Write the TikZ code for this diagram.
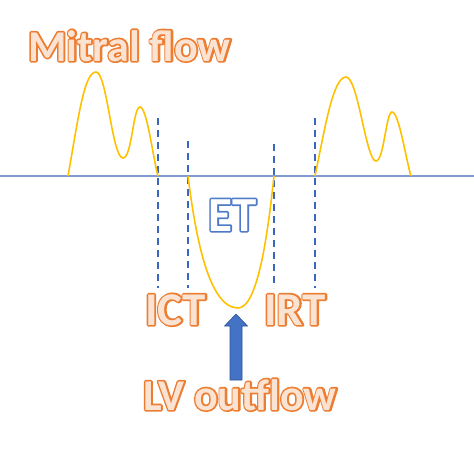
\documentclass[tikz,border=0pt]{standalone}
\usepackage{fontspec}
\setmainfont{Carlito}
\definecolor{orn}{HTML}{ED7D31}
\definecolor{peach}{HTML}{FBE3D3}
\definecolor{gold}{HTML}{FFC000}
\definecolor{axisblue}{HTML}{7E9CCF}
\definecolor{dashblue}{HTML}{3A66C0}
\definecolor{arrblue}{HTML}{4472C4}
\definecolor{arredge}{HTML}{2F5597}
\definecolor{etblue}{HTML}{4F7AC8}
% outlined text: #1 stroke colour, #2 fill colour, #3 text
% a stroked copy underneath, the filled text on top: outline lies outside the glyphs
\newcommand\outltext[3]{\rlap{\color{#1}\special{pdf:literal direct 1 Tr 3.4 w 1 j}#3\special{pdf:literal direct 0 Tr}}{\color{#2}#3}}
\begin{document}
\begin{tikzpicture}[x=1pt,y=-1pt,
  lbl/.style={anchor=base west,inner sep=0pt,font=\fontsize{44}{44}\selectfont\bfseries},
  biglbl/.style={anchor=base west,inner sep=0pt,font=\fontsize{47}{47}\selectfont\bfseries},
  etlbl/.style={anchor=base west,inner sep=0pt,font=\fontsize{49}{49}\selectfont\bfseries},
  flow/.style={gold,line width=1.6pt},
  guide/.style={dashblue,line width=1.5pt,dash pattern=on 7pt off 5pt},
  baseaxis/.style={axisblue,line width=1.2pt}]
\useasboundingbox (0,0) rectangle (474,451);
% axis
\coordinate (axL) at (0,176);
\coordinate (axR) at (474,176);
\draw[baseaxis] (axL) -- (axR);
% dashed guides
\coordinate (g1t) at (158,118); \coordinate (g1b) at (158,288);
\coordinate (g2t) at (188,141); \coordinate (g2b) at (188,288);
\coordinate (g3t) at (274,144); \coordinate (g3b) at (274,288);
\coordinate (g4t) at (315,118); \coordinate (g4b) at (315,288);
\draw[guide] (g1t) -- (g1b);
\draw[guide] (g2t) -- (g2b);
\draw[guide] (g3t) -- (g3b);
\draw[guide] (g4t) -- (g4b);
% mitral flow curves
\draw[flow] (68,176) .. controls (78,120) and (84,72) .. (96,72)
  .. controls (107,72) and (112,158) .. (123,158)
  .. controls (132,158) and (133,107) .. (140,107)
  .. controls (147,107) and (153,158) .. (158,176);
\draw[flow] (315,176) .. controls (325,128) and (333,77) .. (346,77)
  .. controls (358,77) and (366,161) .. (376,161)
  .. controls (384,161) and (386,112) .. (392,112)
  .. controls (399,112) and (406,160) .. (411,176);
% LV outflow curve
\draw[flow] (188,176) .. controls (195,232) and (208,308) .. (238,308)
  .. controls (258,308) and (268,232) .. (274,176);
% labels
\node[lbl] (mitral) at (28,61) {\outltext{orn}{peach}{Mitral flow}};
\node[etlbl] (et) at (208,231) {\outltext{etblue}{white}{ET}};
\node[biglbl] (ict) at (145,325) {\outltext{orn}{peach}{ICT}};
\node[biglbl] (irt) at (264,325) {\outltext{orn}{peach}{IRT}};
\node[lbl] (lv) at (143,410) {\outltext{orn}{peach}{LV outflow}};
% arrow
\coordinate (arrtip) at (236,314);
\draw[arredge,line width=0.6pt,fill=arrblue,line join=miter]
  (arrtip) -- (247.5,326) -- (242,326) -- (242,380) -- (230,380) -- (230,326) -- (224.5,326) -- cycle;
\end{tikzpicture}
\end{document}
